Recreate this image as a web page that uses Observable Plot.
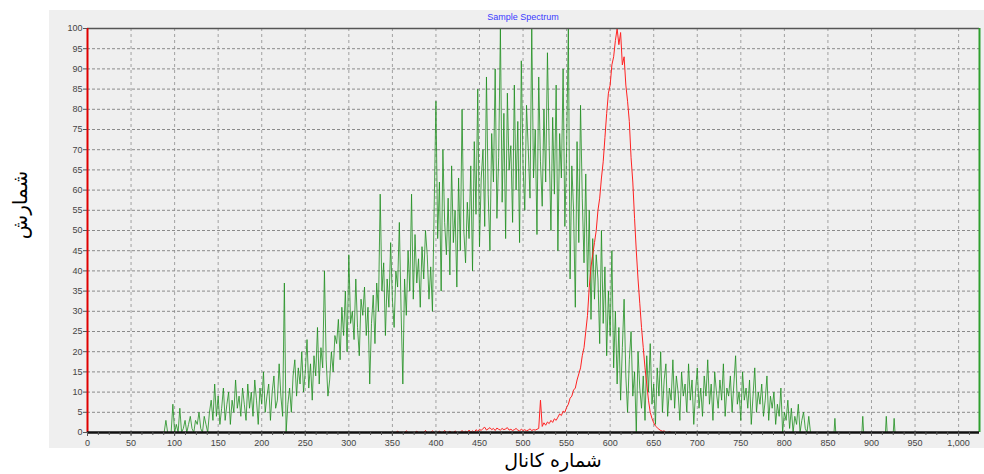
<!DOCTYPE html>
<html>
<head>
<meta charset="utf-8">
<script src="https://cdn.jsdelivr.net/npm/d3@7"></script>
<script src="https://cdn.jsdelivr.net/npm/@observablehq/plot@0.6"></script>
<style>
  html, body { margin: 0; padding: 0; background: #fff; }
  #wrap { position: relative; width: 984px; height: 474px; overflow: hidden; background: #fff; }
  #panel { position: absolute; left: 49px; top: 10px; width: 935px; height: 438px; background: #efefef; }
  #chart { position: absolute; left: 0; top: 0; }
  #title { position: absolute; left: 0; width: 1046px; top: 12px; text-align: center; font: 9px "Liberation Sans", Arial, sans-serif; color: #3a3aff; }
  #ylab { position: absolute; left: 20px; top: 205px; transform: translate(-50%, -50%) rotate(-90deg); font: 20px "DejaVu Sans", sans-serif; color: #000; white-space: nowrap; line-height: 1; }
  #xlab { position: absolute; left: 553px; top: 460px; transform: translate(-50%, -50%); font: 19px "DejaVu Sans", sans-serif; color: #000; white-space: nowrap; line-height: 1; }
</style>
</head>
<body>
<div id="wrap">
  <div id="panel"></div>
  <div id="chart"></div>
  <div id="title">Sample Spectrum</div>
  <div id="ylab" dir="rtl">شمارش</div>
  <div id="xlab" dir="rtl">شماره کانال</div>
</div>
<script>
// ---- data ----
const xTicks = d3.range(0, 1001, 50);
const xMinorTicks = d3.range(0, 1025, 12.5);
const yTicks = d3.range(0, 101, 5);

// green spectrum: counts every 2 channels starting at channel 86
const greenStart = 86;
const greenStep = 2;
const greenCounts = [
  0,0,3,0,0,0,7,0,2,0,6,0,1,3,0,2,4,1,0,3,2,5,1,0,4,
  2,0,5,8,3,12,4,9,2,6,11,3,7,10,2,8,5,13,6,9,4,11,7,3,12,
  6,10,4,13,8,2,11,7,15,5,9,12,3,10,14,6,8,17,9,4,37,0,7,11,5,
  14,18,9,16,12,20,10,15,23,11,17,8,19,14,26,12,21,16,40,18,9,13,20,15,24,
  22,28,18,31,24,35,20,44,27,30,23,38,26,19,33,29,36,24,31,12,27,34,22,37,30,
  59,35,42,24,38,31,47,33,26,40,36,52,30,12,38,29,45,35,59,33,49,37,43,31,46,
  38,50,44,33,41,30,56,82,48,62,35,70,52,44,58,39,66,47,55,36,63,45,80,50,42,
  57,48,66,40,72,54,85,46,63,70,51,88,59,45,74,62,90,53,68,100,57,79,48,84,65,
  71,52,86,60,77,47,92,66,55,81,70,58,100,63,75,49,88,67,56,80,62,94,71,50,78,
  59,86,45,74,63,90,51,70,100,38,66,55,31,72,47,81,58,42,64,36,55,28,48,33,44,
  38,22,50,27,41,19,35,24,45,16,30,12,26,8,21,33,14,5,18,25,9,15,0,20,11,
  6,14,3,19,10,22,7,12,2,16,9,20,5,13,17,4,11,8,18,6,14,10,3,15,9,
  12,5,17,8,13,2,10,16,6,11,4,14,9,18,7,12,3,15,10,6,13,8,17,4,11,
  9,14,5,12,19,7,10,3,15,8,11,6,13,2,9,16,5,10,7,12,4,8,14,3,9,
  6,10,2,7,4,11,0,5,3,8,1,6,0,4,2,7,0,3,5,1,0,4,0
];
// isolated green counts far right
const greenSpikeChannels = [858, 890, 917, 926];
const greenSpikeCounts = [3.5, 4, 4, 3.5];

// red spectrum: counts every 2 channels starting at channel 350
const redStart = 350;
const redStep = 2;
const redCounts = [
  0,0,0,0.3,0,0,0,0,0.4,0,0,0,0,0,0.3,0,0,0,0,0.5,0,0,0,0.4,0,
  0,0,0.3,0,0,0.5,0,0,0.3,0,0,0.4,0,0,0,0.5,0,0.3,0,0.6,0,0.4,0,0.7,0.3,
  0.8,0.5,1,1.3,0.6,0.9,1.2,0.7,1,0.5,1.1,0.8,0.6,1,0.7,0.9,1.2,0.6,0.8,0.5,0.7,1,0.6,0.4,0.8,
  0.5,0.7,0.4,0.6,0.9,0.5,0.7,0.6,0.8,1,
  8,1.5,2.4,1.8,2.6,2.2,3,2.5,3.4,3,
  3.8,4.6,4.2,5.3,5,6.2,7,8.5,9,10.5,
  11,13,14.5,16,19,21,25,29,36,41,
  44,47,50,55,58,63,67,73,79,84,
  86,91,93,97,100,96,99,91,93,86,
  82,77,68,62,53,45,38,32,26,21,
  16,12,8,5,3.5,2.4,1.6,1.2,0.8,0.5,
  0.3,0.4,0,0,0.2,0
];

// ---- build tables ----
const green = [{ch: 0, v: 0}, {ch: greenStart - greenStep, v: 0}];
greenCounts.forEach((v, i) => green.push({ch: greenStart + i * greenStep, v}));
green.push({ch: greenStart + greenCounts.length * greenStep, v: 0});
greenSpikeChannels.forEach((c, i) => {
  green.push({ch: c - 1, v: 0}, {ch: c, v: greenSpikeCounts[i]}, {ch: c + 1, v: 0});
});
green.push({ch: 1024, v: 0});

const red = [{ch: 0, v: 0}, {ch: redStart - redStep, v: 0}];
redCounts.forEach((v, i) => red.push({ch: redStart + i * redStep, v}));
red.push({ch: 1024, v: 0});

const chart = Plot.plot({
  width: 984,
  height: 474,
  marginLeft: 87,
  marginRight: 5,
  marginTop: 28,
  marginBottom: 42,
  style: {background: "transparent", fontFamily: "'Liberation Sans', Arial, sans-serif", fontSize: "9px", color: "#444"},
  x: {domain: [0, 1024], label: null},
  y: {domain: [0, 100], label: null},
  marks: [
    Plot.gridX(xTicks, {stroke: "#a0a0a0", strokeOpacity: 1, strokeDasharray: "3,3"}),
    Plot.gridY(yTicks, {stroke: "#8a8a8a", strokeOpacity: 1, strokeDasharray: "3,2"}),
    Plot.line(green, {x: "ch", y: "v", stroke: "#1f8f1f", strokeWidth: 1, strokeOpacity: 0.8, clip: true}),
    Plot.line(red, {x: "ch", y: "v", stroke: "#ff2222", strokeWidth: 1, clip: true}),
    Plot.ruleY([100], {stroke: "#555", strokeWidth: 1.5}),
    Plot.ruleX([1024], {stroke: "#2ea02e", strokeWidth: 2}),
    Plot.ruleX([0], {stroke: "#e00000", strokeWidth: 2}),
    Plot.ruleY([0], {stroke: "#111", strokeWidth: 2.5}),
    Plot.axisX(xMinorTicks, {tickSize: 3, tickFormat: () => "", stroke: "#555"}),
    Plot.axisX(xTicks, {tickSize: 4, tickPadding: 3, tickFormat: d3.format(","), stroke: "#555", fill: "#444", fontSize: 9}),
    Plot.axisY(yTicks, {tickSize: 4, tickPadding: 1, stroke: "#555", fill: "#444", fontSize: 9})
  ]
});
document.getElementById("chart").appendChild(chart);
</script>
</body>
</html>
